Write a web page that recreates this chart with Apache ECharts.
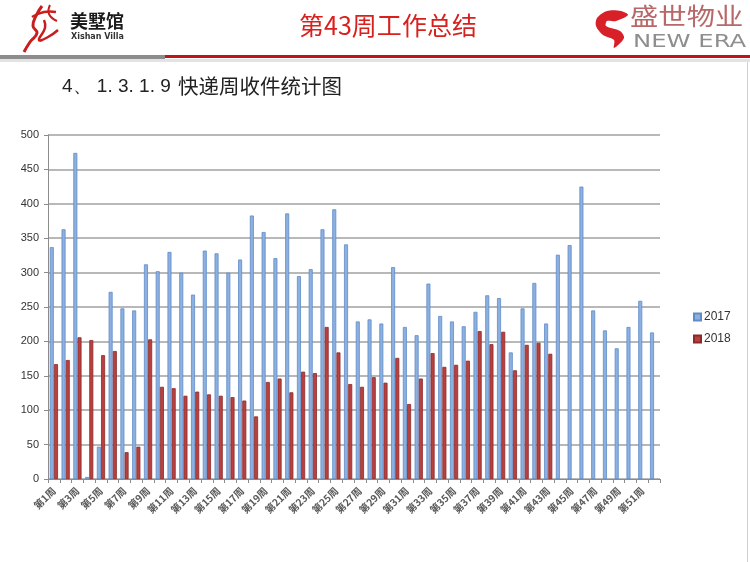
<!DOCTYPE html>
<html>
<head>
<meta charset="utf-8">
<script src="https://cdn.jsdelivr.net/npm/echarts@6/dist/echarts.min.js"></script>
<style>
html,body{margin:0;padding:0;background:#fff;}
#chart{width:750px;height:562px;}
</style>
</head>
<body>
<div id="chart"></div>
<script>
var weeks = ['第1周','第2周','第3周','第4周','第5周','第6周','第7周','第8周','第9周','第10周',
  '第11周','第12周','第13周','第14周','第15周','第16周','第17周','第18周','第19周','第20周',
  '第21周','第22周','第23周','第24周','第25周','第26周','第27周','第28周','第29周','第30周',
  '第31周','第32周','第33周','第34周','第35周','第36周','第37周','第38周','第39周','第40周',
  '第41周','第42周','第43周','第44周','第45周','第46周','第47周','第48周','第49周','第50周',
  '第51周','第52周'];
var s2017 = [337,363,474,3,47,272,248,245,312,302,330,300,268,
  332,328,300,319,383,359,321,386,295,305,363,392,341,229,232,226,
  308,221,209,284,237,229,222,243,267,263,184,248,285,226,
  326,340,425,245,216,190,221,259,213];
var s2018 = [167,173,206,202,180,186,39,47,203,134,132,121,127,
  123,121,119,114,91,141,146,126,156,154,221,184,138,134,148,140,
  176,109,146,183,163,166,172,215,196,214,158,195,198,182,
  null,null,null,null,null,null,null,null,null];
var yTicks = {min:0, max:500, interval:50};
var titleText = '第43周工作总结';
var subNum = '4、 1. 3. 1. 9';
var subText = '快递周收件统计图';

var chart = echarts.init(document.getElementById('chart'), null, {renderer:'canvas'});
var cjk = '"Noto Sans CJK SC", "Noto Sans", sans-serif';
chart.setOption({
  backgroundColor:'#ffffff',
  animation:false,
  textStyle:{fontFamily:cjk},
  graphic:[
    {type:'rect', shape:{x:0,y:55,width:165,height:4}, style:{fill:'#8c8c8c'}},
    {type:'rect', shape:{x:165,y:55,width:585,height:3}, style:{fill:'#c0141b'}},
    {type:'rect', shape:{x:0,y:59,width:750,height:3}, style:{fill:'#e3e3e3'}},
    // left logo calligraphy
    {type:'polyline', shape:{points:[[42,6],[36,16],[33,26],[37,33],[30,42],[24,52]], smooth:0.5}, style:{stroke:'#c81e1e', lineWidth:3, fill:null}},
    {type:'polyline', shape:{points:[[32,17],[44,12],[56,12]], smooth:0.5}, style:{stroke:'#c81e1e', lineWidth:2.5, fill:null}},
    {type:'polyline', shape:{points:[[44,20],[45,28],[39,40],[48,37],[58,30]], smooth:0.5}, style:{stroke:'#c81e1e', lineWidth:2.5, fill:null}},
    {type:'polyline', shape:{points:[[50,5],[49,14],[57,21]], smooth:0.5}, style:{stroke:'#c81e1e', lineWidth:2, fill:null}},
    {type:'text', x:70, y:12, style:{text:'美墅馆', font:'bold 18px '+cjk, fill:'#1a1a1a'}},
    {type:'text', x:71, y:33, style:{text:'Xishan Villa', font:'bold 8px "DejaVu Sans", sans-serif', fill:'#333'}},
    {type:'text', x:388, y:13, style:{text:titleText, font:'25px '+cjk, fill:'#d8201e', textAlign:'center'}},
    // right logo
    {type:'polygon', shape:{points:[[597,18],[607,11],[621,11],[628,15],[616,21],[607,21],[606,26],[620,31],[624,38],[614,48],[614,40],[603,35],[596,26]], smooth:0.3}, style:{fill:'#d72027'}},
    {type:'text', x:630, y:4, scaleX:1.18, style:{text:'盛世物业', font:'24px '+cjk, fill:'#b86868'}},
    {type:'text', x:633, y:34, scaleX:1.43, style:{text:'NEW ERA', font:'17px "DejaVu Sans", sans-serif', fill:'#8e8e8e'}},
    {type:'text', x:62, y:77, style:{text:subNum, font:'19px "Liberation Sans", sans-serif', fill:'#222'}},
    {type:'text', x:178, y:76, style:{text:subText, font:'20.5px '+cjk, fill:'#222'}},
    {type:'rect', shape:{x:747,y:62,width:1,height:500}, style:{fill:'#cfcfcf'}}
  ],
  grid:{left:48, right:90, top:135, bottom:83, containLabel:false},
  legend:{
    orient:'vertical', left:688, top:306, itemWidth:7, itemHeight:7, itemGap:10,
    icon:'rect',
    textStyle:{fontSize:12, color:'#333', fontFamily:'"Liberation Sans", sans-serif', padding:[0,0,0,-2]},
    data:['2017','2018']
  },
  xAxis:{
    type:'category', data:weeks,
    axisLine:{lineStyle:{color:'#8c8c8c', width:1}},
    axisTick:{show:true, interval:0, length:4, lineStyle:{color:'#8c8c8c'}},
    axisLabel:{interval:1, rotate:45, fontSize:10, color:'#595959', fontWeight:'bold', margin:10, fontFamily:cjk}
  },
  yAxis:{
    type:'value', min:yTicks.min, max:yTicks.max, interval:yTicks.interval,
    axisLine:{show:true, lineStyle:{color:'#8c8c8c'}},
    axisTick:{show:true, length:4, lineStyle:{color:'#8c8c8c'}},
    axisLabel:{fontSize:11, color:'#333', margin:9, fontFamily:'"Liberation Sans", sans-serif'},
    splitLine:{lineStyle:{color:'#a0a0a0', width:1.5}}
  },
  series:[
    {name:'2017', type:'bar', data:s2017, barWidth:4, barGap:'5%',
     itemStyle:{color:'#8cb0e0', borderColor:'#5f8cc8', borderWidth:0.8}},
    {name:'2018', type:'bar', data:s2018, barWidth:4, barGap:'5%',
     itemStyle:{color:'#b8403f', borderColor:'#8a2a29', borderWidth:0.8}}
  ]
});
</script>
</body>
</html>
